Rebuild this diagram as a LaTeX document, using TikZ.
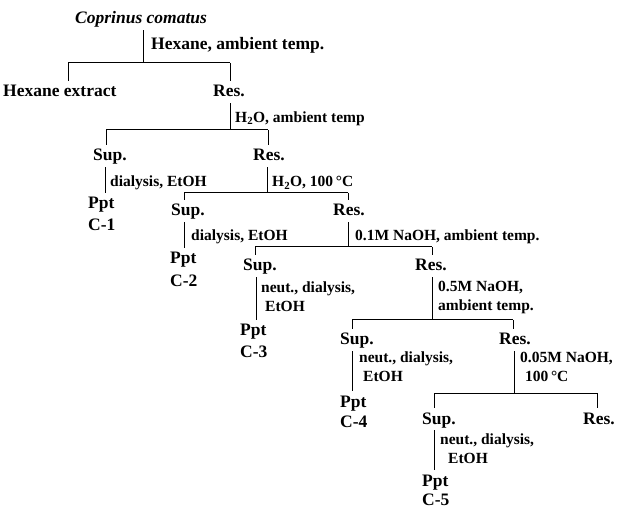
\documentclass[tikz,border=0pt]{standalone}
\usepackage{fontspec}
\setmainfont{Liberation Serif}
\begin{document}
\begin{tikzpicture}[x=1pt,y=-1pt,
  nd/.style={font=\bfseries\fontsize{17.5}{19}\selectfont, inner sep=0pt, text height=11pt, text depth=3pt, anchor=west},
  lb/.style={font=\bfseries\fontsize{15.5}{19}\selectfont, inner sep=0pt, anchor=west, align=left},
  ln/.style={line width=1pt, line cap=butt},
  up/.style={shorten <=3pt},
  dn/.style={shorten >=5pt}]
\useasboundingbox (0,0) rectangle (621,510);
% nodes
\node[nd,font=\bfseries\itshape\fontsize{17.5}{19}\selectfont] (cop) at (75,20) {Coprinus comatus};
\node[nd] (hex) at (3,93) {Hexane extract};
\node[nd] (res1) at (213,93) {Res.};
\node[nd] (sup1) at (93,157) {Sup.};
\node[nd] (res2) at (253,157) {Res.};
\node[nd] (ppt1) at (88,205) {Ppt};
\node[nd] (c1) at (88,227) {C-1};
\node[nd] (sup2) at (171,212) {Sup.};
\node[nd] (res3) at (333,212) {Res.};
\node[nd] (ppt2) at (170,260) {Ppt};
\node[nd] (c2) at (170,283) {C-2};
\node[nd] (sup3) at (243,267) {Sup.};
\node[nd] (res4) at (415,267) {Res.};
\node[nd] (ppt3) at (240,332) {Ppt};
\node[nd] (c3) at (240,354) {C-3};
\node[nd] (sup4) at (340,341) {Sup.};
\node[nd] (res5) at (499,341) {Res.};
\node[nd] (ppt4) at (340,403) {Ppt};
\node[nd] (c4) at (340,424) {C-4};
\node[nd] (sup5) at (422,420) {Sup.};
\node[nd] (res6) at (583,420) {Res.};
\node[nd] (ppt5) at (422,482) {Ppt};
\node[nd] (c5) at (422,501) {C-5};
% labels
\node[lb,font=\bfseries\fontsize{17.5}{19}\selectfont] (l0) at (151,45) {Hexane, ambient temp.};
\node[lb] (l1) at (235,119) {H\textsubscript{2}O, ambient temp};
\node[lb] (l2) at (110,183) {dialysis, EtOH};
\node[lb] (l3) at (272,183) {H\textsubscript{2}O, 100\,°C};
\node[lb] (l4) at (191,237) {dialysis, EtOH};
\node[lb] (l5) at (355,237) {0.1M NaOH, ambient temp.};
\node[lb] (l6) at (261,297) {neut., dialysis,\\\hspace*{4pt}EtOH};
\node[lb] (l7) at (438,297) {0.5M NaOH,\\ambient temp.};
\node[lb] (l8) at (359,367) {neut.,\ dialysis,\\\hspace*{4pt}EtOH};
\node[lb] (l9) at (520,367) {0.05M NaOH,\\\hspace*{5pt}100\,°C};
\node[lb] (l10) at (440,449) {neut., dialysis,\\\hspace*{8pt}EtOH};
% junctions
\coordinate (j0) at (143,63); \coordinate (j0l) at (68,63); \coordinate (j0r) at (230,63);
\coordinate (j1) at (230,130); \coordinate (j1l) at (106,130); \coordinate (j1r) at (268,130);
\coordinate (s1) at (105,0);
\coordinate (j2) at (267,193); \coordinate (j2l) at (184,193); \coordinate (j2r) at (348,193);
\coordinate (s2) at (184,0);
\coordinate (j3) at (348,247); \coordinate (j3l) at (255,247); \coordinate (j3r) at (432,247);
\coordinate (s3) at (256,0);
\coordinate (j4) at (432,320); \coordinate (j4l) at (352,320); \coordinate (j4r) at (513,320);
\coordinate (s4) at (352,0);
\coordinate (j5) at (514,393); \coordinate (j5l) at (434,393); \coordinate (j5r) at (597,393);
\coordinate (s5) at (434,0);
% connectors
\draw[ln,up] (cop.south -| j0) -- (j0);
\draw[ln] (j0l) -- (j0r);
\draw[ln,dn] (j0l) -- (hex.north -| j0l);
\draw[ln,dn] (j0r) -- (res1.north -| j0r);
\draw[ln,up] (res1.south -| j1) -- (j1);
\draw[ln] (j1l) -- (j1r);
\draw[ln,dn] (j1l) -- (sup1.north -| j1l);
\draw[ln,dn] (j1r) -- (res2.north -| j1r);
\draw[ln,up,dn] (sup1.south -| s1) -- (ppt1.north -| s1);
\draw[ln,up] (res2.south -| j2) -- (j2);
\draw[ln] (j2l) -- (j2r);
\draw[ln,dn] (j2l) -- (sup2.north -| j2l);
\draw[ln,dn] (j2r) -- (res3.north -| j2r);
\draw[ln,up,dn] (sup2.south -| s2) -- (ppt2.north -| s2);
\draw[ln,up] (res3.south -| j3) -- (j3);
\draw[ln] (j3l) -- (j3r);
\draw[ln,dn] (j3l) -- (sup3.north -| j3l);
\draw[ln,dn] (j3r) -- (res4.north -| j3r);
\draw[ln,up,dn] (sup3.south -| s3) -- (ppt3.north -| s3);
\draw[ln,up] (res4.south -| j4) -- (j4);
\draw[ln] (j4l) -- (j4r);
\draw[ln,dn] (j4l) -- (sup4.north -| j4l);
\draw[ln,dn] (j4r) -- (res5.north -| j4r);
\draw[ln,up,dn] (sup4.south -| s4) -- (ppt4.north -| s4);
\draw[ln,up] (res5.south -| j5) -- (j5);
\draw[ln] (j5l) -- (j5r);
\draw[ln,dn] (j5l) -- (sup5.north -| j5l);
\draw[ln,dn] (j5r) -- (res6.north -| j5r);
\draw[ln,up,dn] (sup5.south -| s5) -- (ppt5.north -| s5);
\end{tikzpicture}
\end{document}
